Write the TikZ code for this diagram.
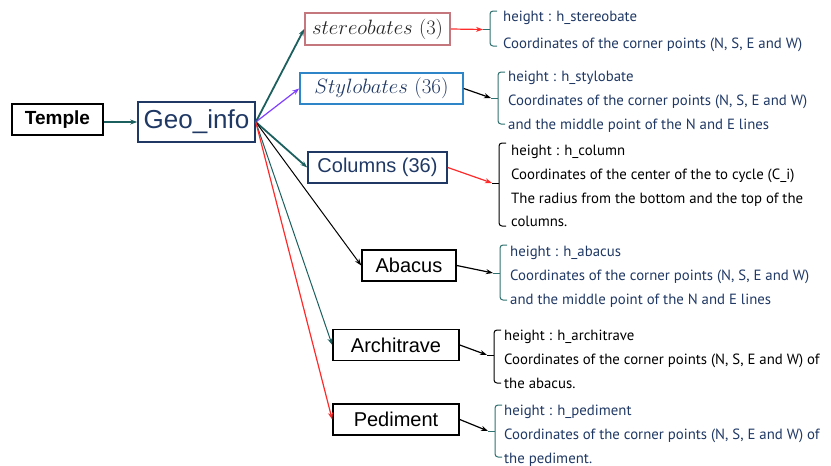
\documentclass[tikz,border=0pt]{standalone}
\usepackage{fontspec}
\newfontfamily\boxfont{Liberation Sans}
\newfontfamily\notefont{PT Sans}
\usetikzlibrary{arrows.meta}
\definecolor{navy}{HTML}{1F3864}
\definecolor{darkteal}{HTML}{1C5F5F}
\definecolor{braceteal}{HTML}{2F7170}
\definecolor{pinkline}{HTML}{C4777D}
\definecolor{blueline}{HTML}{2E86C9}
\definecolor{purpleline}{HTML}{8040FF}
\definecolor{redline}{HTML}{FF2A2A}
\newcommand{\notebrace}[6]{%
  \draw[#1, line width=1pt, rounded corners=3pt]
    (#2+7,#3) -- (#2,#3) -- (#2,#4) -- (#2+7,#4);
  \draw[#1, line width=1pt] (#2,#5) -- (#2-7,#5) coordinate (#6);}

\begin{document}
\begin{tikzpicture}[x=1pt, y=-1pt,
    box/.style  = {draw, line width=1.6pt, inner sep=0pt, minimum height=31pt,
                   font=\boxfont\fontsize{20}{22}\selectfont},
    note/.style = {anchor=north west, align=left, inner sep=0pt,
                   font=\notefont\fontsize{14.8}{23.7}\selectfont},
    link/.style = {-{Stealth[length=7pt, width=5pt]}, line width=1.2pt}]
  \useasboundingbox (0,0) rectangle (831,466);

  \node [box, minimum width=91pt,
         font=\boxfont\bfseries\fontsize{19}{21}\selectfont] (temple) at (57.5,119.5) {Temple};
  \node [box, draw=navy, text=navy, minimum width=117pt, minimum height=40pt,
         font=\boxfont\fontsize{26}{28}\selectfont] (geo) at (196.5,122) {Geo\_info};

  \node [box, draw=pinkline, text=black!85, minimum width=145pt, minimum height=32pt,
         font=\fontsize{20.5}{22}\selectfont] (stereo) at (377.5,29) {$stereobates$ (3)};
  \node [box, draw=blueline, text=navy, minimum width=163pt,
         font=\fontsize{21}{23}\selectfont] (stylo) at (381.5,88.5) {$Stylobates$ (36)};
  \node [box, draw=navy, text=navy, minimum width=139pt] (columns) at (377.5,167.5) {Columns (36)};
  \node [box, minimum width=94pt] (abacus) at (409,265.5) {Abacus};
  \node [box, minimum width=126pt] (architrave) at (396,345) {Architrave};
  \node [box, minimum width=126pt] (pediment) at (396,419.5) {Pediment};

  \node [note, text=navy] (stereoTxt) at (503,11)
    {height : h\_stereobate\\[3.5pt]Coordinates of the corner points (N, S, E and W)};
  \node [note, text=navy] (styloTxt) at (508,71)
    {height : h\_stylobate\\Coordinates of the corner points (N, S, E and W)\\and the middle point of the N and E lines};
  \node [note] (columnsTxt) at (511,145)
    {height : h\_column\\Coordinates of the center of the to cycle (C\_i)\\The radius from the bottom and the top of the\\columns.};
  \node [note, text=navy] (abacusTxt) at (510,246)
    {height : h\_abacus\\Coordinates of the corner points (N, S, E and W)\\and the middle point of the N and E lines};
  \node [note] (architraveTxt) at (504,330)
    {height : h\_architrave\\Coordinates of the corner points (N, S, E and W) of\\the abacus.};
  \node [note, text=navy] (pedimentTxt) at (504,405)
    {height : h\_pediment\\Coordinates of the corner points (N, S, E and W) of\\the pediment.};

  \notebrace{braceteal}{490}{11}{46}{29.5}{stereoIn}
  \notebrace{braceteal}{498}{72}{124}{98}{styloIn}
  \notebrace{black}{499}{143}{226}{183}{columnsIn}
  \notebrace{braceteal}{500}{245}{300}{273}{abacusIn}
  \notebrace{black}{494}{330}{383}{355}{architraveIn}
  \notebrace{braceteal}{495}{405}{457}{431}{pedimentIn}

  \path
    (temple.east |- geo) edge [link, darkteal] (geo)
    (geo.east) edge [link, darkteal, line width=1.8pt] (stereo.west)
    (geo.east) edge [link, purpleline] (stylo.west)
    (geo.east) edge [link, darkteal, line width=1.8pt] (columns.west)
    (geo.east) edge [link, black, line width=1pt] (abacus.west)
    (geo.east) edge [link, darkteal, line width=1pt] (architrave.west)
    (geo.east) edge [link, redline] (pediment.west);
  \path
    (stereo.east) edge [link, redline] (stereoIn)
    (stylo.east) edge [link] (styloIn)
    (columns.east) edge [link, redline] (columnsIn)
    (abacus.east) edge [link] (abacusIn)
    (architrave.east) edge [link] (architraveIn)
    (pediment.east) edge [link] (pedimentIn);
\end{tikzpicture}
\end{document}
